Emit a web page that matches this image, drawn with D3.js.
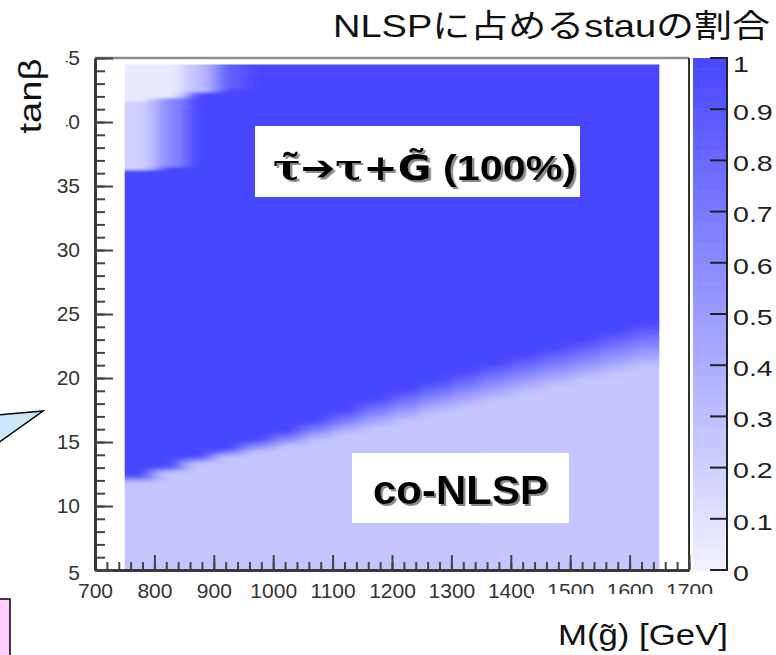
<!DOCTYPE html>
<html>
<head>
<meta charset="utf-8">
<script src="https://cdn.jsdelivr.net/npm/d3@7"></script>
<style>
  body { margin: 0; background: #fff; }
  svg { display: block; font-family: "Liberation Sans", Arial, sans-serif; }
</style>
</head>
<body>
<div id="chart"></div>
<script>
// gluino mass bins [GeV]
const massEdges = [750, 800, 850, 900, 950, 1000, 1050, 1100, 1150, 1200, 1250, 1300, 1350, 1400, 1450, 1500, 1550, 1600, 1650];
// stau fraction in the co-NLSP region (low tan beta), one per mass bin
const coFrac = [0.27, 0.27, 0.27, 0.27, 0.27, 0.27, 0.27, 0.27, 0.27, 0.27, 0.27, 0.27, 0.26, 0.26, 0.26, 0.26, 0.26, 0.26];
// tan beta where the fraction starts to rise / reaches 1
const mixLow = [11.8, 12.6, 13.3, 13.8, 14.2, 14.6, 15.1, 15.6, 16.1, 16.6, 17.2, 17.7, 18.2, 18.8, 19.3, 19.8, 20.3, 20.8];
const mixHigh = [12.4, 13.1, 13.9, 14.5, 15.2, 15.9, 16.7, 17.5, 18.4, 19.1, 19.8, 20.5, 21.2, 21.8, 22.4, 23.0, 23.7, 24.3];
// high tan beta corner (first mass bins only)
const cornerMidFrom = [36.25, 36.5];
const cornerMidFrac = [0.2, 0.6];
const cornerTopFrom = [41.6, 41.9, 42.3, 42.6];
const cornerTopFrac = [0.04, 0.04, 0.3, 0.85];

const xMajor = [700, 800, 900, 1000, 1100, 1200, 1300, 1400, 1500, 1600, 1700];
const yMajor = [5, 10, 15, 20, 25, 30, 35, 40, 45];
const zTicks = [0, 0.1, 0.2, 0.3, 0.4, 0.5, 0.6, 0.7, 0.8, 0.9, 1];
const zLabels = ['0', '0.1', '0.2', '0.3', '0.4', '0.5', '0.6', '0.7', '0.8', '0.9', '1'];

const W = 776, H = 655;
const svg = d3.select('#chart').append('svg').attr('width', W).attr('height', H);
const defs = svg.append('defs');

const x = d3.scaleLinear().domain([700, 1700]).range([95, 689]);
const y = d3.scaleLinear().domain([5, 45]).range([570, 58]);
const z = d3.scaleLinear().domain([0, 1]).range([570, 58]);
const color = d3.interpolateRgb('#f2f2ff', '#4646ff');

// ---- heat map: one vertical gradient per mass bin, smeared sideways
const tMin = 4, tMax = 45.5;
const cols = massEdges.slice(0, -1).map((m0, i) => {
  const st = [[tMin, coFrac[i]], [mixLow[i], coFrac[i]], [mixHigh[i], 1]];
  if (i < cornerMidFrom.length) {
    st.push([cornerMidFrom[i], 1], [cornerMidFrom[i] + 0.01, cornerMidFrac[i]]);
    st.push([cornerTopFrom[i], cornerMidFrac[i]], [cornerTopFrom[i] + 0.01, cornerTopFrac[i]], [tMax, cornerTopFrac[i]]);
  } else if (i < cornerTopFrom.length) {
    st.push([cornerTopFrom[i], 1], [cornerTopFrom[i] + 0.01, cornerTopFrac[i]], [tMax, cornerTopFrac[i]]);
  } else {
    st.push([tMax, 1]);
  }
  return { m0: m0, m1: massEdges[i + 1], stops: st, i: i };
});

cols.forEach(c => {
  const g = defs.append('linearGradient')
    .attr('id', 'col' + c.i)
    .attr('gradientUnits', 'userSpaceOnUse')
    .attr('x1', 0).attr('x2', 0)
    .attr('y1', y(tMin)).attr('y2', y(tMax));
  g.selectAll('stop').data(c.stops).enter().append('stop')
    .attr('offset', d => (d[0] - tMin) / (tMax - tMin))
    .attr('stop-color', d => color(d[1]));
});

const blur = defs.append('filter').attr('id', 'smear')
  .attr('x', -0.1).attr('y', -0.1).attr('width', 1.2).attr('height', 1.2);
blur.append('feGaussianBlur').attr('stdDeviation', '9 1.5');

const shadow = defs.append('filter').attr('id', 'shadow')
  .attr('x', -0.05).attr('y', -0.1).attr('width', 1.1).attr('height', 1.3);
shadow.append('feDropShadow').attr('dx', 2).attr('dy', 2).attr('stdDeviation', 0.6)
  .attr('flood-color', '#8a8a8a').attr('flood-opacity', 1);

defs.append('clipPath').attr('id', 'dataClip').append('rect')
  .attr('x', x(750)).attr('y', y(44.5))
  .attr('width', x(1650) - x(750)).attr('height', y(5) - y(44.5));

const last = cols.length - 1;
svg.append('g').attr('clip-path', 'url(#dataClip)')
  .append('g').attr('filter', 'url(#smear)')
  .selectAll('rect').data(cols).enter().append('rect')
  .attr('x', d => x(d.m0) - (d.i === 0 ? 30 : 0))
  .attr('y', y(tMax))
  .attr('width', d => x(d.m1) - x(d.m0) + 0.6 + (d.i === 0 ? 30 : 0) + (d.i === last ? 30 : 0))
  .attr('height', y(tMin) - y(tMax))
  .attr('fill', d => 'url(#col' + d.i + ')');

// ---- frame
svg.append('line').attr('x1', 95).attr('x2', 689).attr('y1', 58).attr('y2', 58)
  .attr('stroke', '#8a8a8a').attr('stroke-width', 2.5);
svg.append('line').attr('x1', 689).attr('x2', 689).attr('y1', 58).attr('y2', 570)
  .attr('stroke', '#333').attr('stroke-width', 2);

// ---- axes
const xMinor = svg.append('g').attr('transform', 'translate(0,570)')
  .call(d3.axisBottom(x).tickValues(d3.range(700, 1701, 20)).tickSizeInner(-8).tickSizeOuter(0).tickFormat(''));
const xAxis = svg.append('g').attr('transform', 'translate(0,570)')
  .call(d3.axisBottom(x).tickValues(xMajor).tickSizeInner(-15).tickSizeOuter(0).tickPadding(13).tickFormat(d3.format('d')));
const yMinor = svg.append('g').attr('transform', 'translate(95,0)')
  .call(d3.axisLeft(y).tickValues(d3.range(5, 46, 1)).tickSizeInner(-10).tickSizeOuter(0).tickFormat(''));
const yAxis = svg.append('g').attr('transform', 'translate(95,0)')
  .call(d3.axisLeft(y).tickValues(yMajor).tickSizeInner(-18).tickSizeOuter(0).tickPadding(15).tickFormat(d3.format('d')));

[xMinor, xAxis, yMinor, yAxis].forEach(a => {
  a.selectAll('.domain').attr('stroke', '#333').attr('stroke-width', 2.5);
  a.selectAll('.tick line').attr('stroke', '#444').attr('stroke-width', 2);
  a.selectAll('text').attr('font-size', 21).attr('fill', '#333')
    .attr('font-family', '"Liberation Sans", Arial, sans-serif');
});
yAxis.selectAll('.tick').filter(d => d === 5).select('text').attr('dy', '0.45em');

// ---- colour bar
const levels = d3.range(0, 50);
svg.append('g').selectAll('rect').data(levels).enter().append('rect')
  .attr('x', 693).attr('width', 34)
  .attr('y', d => z((d + 1) / 50))
  .attr('height', d => z(d / 50) - z((d + 1) / 50) + 0.5)
  .attr('fill', d => color((d + 0.5) / 50));
svg.append('line').attr('x1', 727).attr('x2', 727).attr('y1', 57).attr('y2', 571)
  .attr('stroke', '#222').attr('stroke-width', 2);
svg.append('g').selectAll('line').data(zTicks).enter().append('line')
  .attr('x1', 710).attr('x2', 727)
  .attr('y1', d => z(d)).attr('y2', d => z(d))
  .attr('stroke', '#222').attr('stroke-width', 2);
svg.append('g').selectAll('text').data(zTicks).enter().append('text')
  .attr('transform', (d, i) => `translate(733,${z(d) + (i === zTicks.length - 1 ? 6 : 3)}) scale(1.3,1)`)
  .attr('dy', '0.35em')
  .attr('font-size', 22).attr('fill', '#222')
  .text((d, i) => zLabels[i]);

// ---- labels
svg.append('rect').attr('x', 0).attr('y', 38).attr('width', 66).attr('height', 122).attr('fill', '#fff');
svg.append('text')
  .attr('transform', 'translate(41,96) rotate(-90)')
  .attr('text-anchor', 'middle')
  .attr('font-size', 31).attr('fill', '#111')
  .attr('textLength', 75).attr('lengthAdjust', 'spacingAndGlyphs')
  .text('tanβ');

svg.append('rect').attr('x', 531).attr('y', 594).attr('width', 245).attr('height', 61).attr('fill', '#fff');
svg.append('text')
  .attr('x', 558).attr('y', 645)
  .attr('font-size', 29).attr('fill', '#111')
  .attr('textLength', 170).attr('lengthAdjust', 'spacingAndGlyphs')
  .text('M(g\u0303) [GeV]');

svg.append('text')
  .attr('x', 333).attr('y', 37)
  .attr('font-family', '"Liberation Sans", "Noto Sans CJK JP", sans-serif')
  .attr('font-size', 32).attr('fill', '#111')
  .attr('textLength', 437).attr('lengthAdjust', 'spacingAndGlyphs')
  .text('NLSPに占めるstauの割合');

// decay label box
svg.append('rect').attr('x', 255).attr('y', 126).attr('width', 325).attr('height', 71).attr('fill', '#fff');
const decay = svg.append('text')
  .attr('transform', 'translate(273,180) scale(1.18,1)')
  .attr('font-size', 35).attr('font-weight', 'bold').attr('fill', '#000')
  .attr('filter', 'url(#shadow)');
decay.append('tspan').attr('font-family', '"DejaVu Serif", serif').text('τ\u0303');
decay.append('tspan').attr('font-family', '"DejaVu Sans", sans-serif').text('➔');
decay.append('tspan').attr('font-family', '"DejaVu Serif", serif').text('τ');
decay.append('tspan').attr('font-family', '"DejaVu Sans", sans-serif').text('+G\u0303');
decay.append('tspan').text(' (100%)');

svg.append('rect').attr('x', 352).attr('y', 453).attr('width', 217).attr('height', 70).attr('fill', '#fff');
svg.append('text')
  .attr('x', 373).attr('y', 504)
  .attr('font-size', 40).attr('font-weight', 'bold').attr('fill', '#000')
  .attr('textLength', 175).attr('lengthAdjust', 'spacingAndGlyphs')
  .attr('filter', 'url(#shadow)')
  .text('co-NLSP');

// pieces of the slide around the chart
svg.append('polygon').attr('points', '-2,415 43,411 -2,443')
  .attr('fill', '#cce8ff').attr('stroke', '#000').attr('stroke-width', 1.5);
svg.append('rect').attr('x', -3).attr('y', 599).attr('width', 13).attr('height', 60)
  .attr('fill', '#ffccff').attr('stroke', '#000').attr('stroke-width', 1.5);
</script>
</body>
</html>
